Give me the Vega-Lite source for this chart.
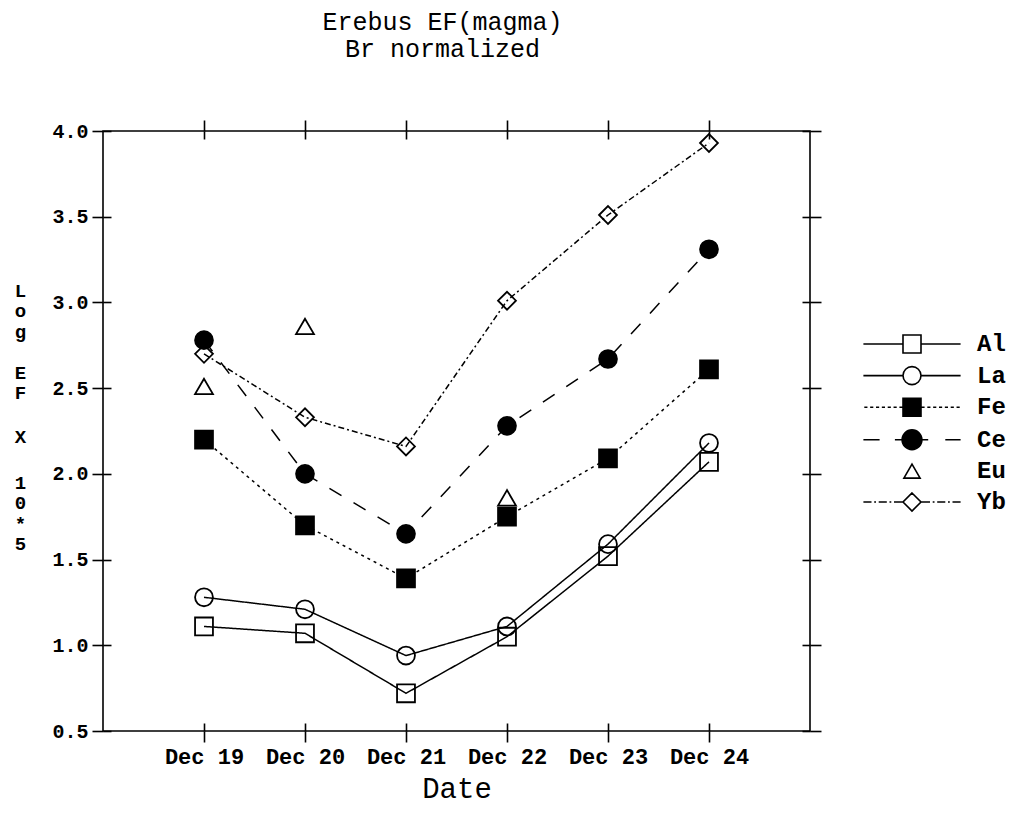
{
  "$schema": "https://vega.github.io/schema/vega-lite/v6.json",
  "width": 707,
  "height": 600,
  "autosize": {"type": "none"},
  "padding": {"left": 103, "top": 131, "right": 212, "bottom": 91},
  "background": "white",
  "config": {
    "font": "Liberation Mono",
    "view": {"stroke": "black", "strokeWidth": 1.6},
    "axis": {"grid": false, "domain": false, "tickColor": "black", "tickWidth": 1.6, "labelColor": "black", "titleColor": "black", "labelFont": "Liberation Mono", "titleFont": "Liberation Mono"},
    "axisY": {"titleAngle": 0, "titleAlign": "center", "titleBaseline": "top", "titleLineHeight": 20.5, "titleFontSize": 19, "titleFontWeight": "bold"}
  },
  "title": {
    "text": ["Erebus EF(magma)", "Br normalized"],
    "font": "Liberation Mono",
    "fontSize": 25,
    "fontWeight": "normal",
    "lineHeight": 27,
    "anchor": "middle",
    "baseline": "bottom",
    "offset": 32,
    "dx": -14,
    "color": "black"
  },
  "data": {
    "values": [
      {"series": "Al", "date": 19, "value": 1.11},
      {"series": "Al", "date": 20, "value": 1.07},
      {"series": "Al", "date": 21, "value": 0.72},
      {"series": "Al", "date": 22, "value": 1.05},
      {"series": "Al", "date": 23, "value": 1.52},
      {"series": "Al", "date": 24, "value": 2.07},
      {"series": "La", "date": 19, "value": 1.28},
      {"series": "La", "date": 20, "value": 1.21},
      {"series": "La", "date": 21, "value": 0.94},
      {"series": "La", "date": 22, "value": 1.11},
      {"series": "La", "date": 23, "value": 1.59},
      {"series": "La", "date": 24, "value": 2.18},
      {"series": "Fe", "date": 19, "value": 2.2},
      {"series": "Fe", "date": 20, "value": 1.7},
      {"series": "Fe", "date": 21, "value": 1.39},
      {"series": "Fe", "date": 22, "value": 1.75},
      {"series": "Fe", "date": 23, "value": 2.09},
      {"series": "Fe", "date": 24, "value": 2.61},
      {"series": "Ce", "date": 19, "value": 2.78},
      {"series": "Ce", "date": 20, "value": 2.0},
      {"series": "Ce", "date": 21, "value": 1.65},
      {"series": "Ce", "date": 22, "value": 2.28},
      {"series": "Ce", "date": 23, "value": 2.67},
      {"series": "Ce", "date": 24, "value": 3.31},
      {"series": "Eu", "date": 19, "value": 2.51},
      {"series": "Eu", "date": 20, "value": 2.86},
      {"series": "Eu", "date": 22, "value": 1.86},
      {"series": "Yb", "date": 19, "value": 2.7},
      {"series": "Yb", "date": 20, "value": 2.33},
      {"series": "Yb", "date": 21, "value": 2.16},
      {"series": "Yb", "date": 22, "value": 3.01},
      {"series": "Yb", "date": 23, "value": 3.51},
      {"series": "Yb", "date": 24, "value": 3.93}
    ]
  },
  "layer": [
    {
      "transform": [{"filter": "datum.series !== 'Eu'"}],
      "mark": {"type": "line", "stroke": "black", "strokeWidth": 1.5},
      "encoding": {
        "x": {
          "field": "date", "type": "quantitative",
          "scale": {"domain": [18, 25], "nice": false, "zero": false},
          "axis": {"orient": "bottom", "values": [19, 20, 21, 22, 23, 24], "labelExpr": "'Dec ' + datum.value", "tickSize": 11, "labelFontSize": 22, "labelFontWeight": "bold", "labelPadding": 4, "labelFlush": false, "labelOverlap": false, "title": "Date", "titleFontSize": 29, "titleFontWeight": "normal", "titlePadding": 7}
        },
        "y": {
          "field": "value", "type": "quantitative",
          "scale": {"domain": [0.5, 4], "nice": false, "zero": false},
          "axis": {"orient": "left", "values": [0.5, 1, 1.5, 2, 2.5, 3, 3.5, 4], "format": ".1f", "tickSize": 11, "labelFontSize": 20, "labelFontWeight": "bold", "labelPadding": 4, "labelFlush": false, "labelOverlap": false,
            "title": ["L", "o", "g"], "titleX": -83, "titleY": 150}
        },
        "detail": {"field": "series", "type": "nominal"},
        "strokeDash": {
          "condition": [
            {"test": "datum.series === 'Fe'", "value": [3, 4]},
            {"test": "datum.series === 'Ce'", "value": [14, 14]},
            {"test": "datum.series === 'Yb'", "value": [6, 3, 2, 3]}
          ],
          "value": [1, 0]
        }
      }
    },
    {
      "mark": {
        "type": "point", "filled": true, "stroke": "black", "strokeWidth": 1.8, "opacity": 1, "size": 320,
        "shape": {"expr": "datum.value === 'Al' ? 'M-5.4,0H-1M1,0H5.4M-1,-1H1V1H-1Z' : datum.value === 'La' ? 'M-5.4,0H-1M1,0H5.4M-1,0A1,1,0,1,0,1,0A1,1,0,1,0,-1,0Z' : datum.value === 'Fe' ? 'M-5.3,0H-4.95M-4.65,0H-4.3M-4,0H-3.65M-3.35,0H-3M-2.7,0H-2.35M-2.05,0H-1.7M-1.4,0H-1M1,0H1.4M1.7,0H2.05M2.35,0H2.7M3,0H3.35M3.65,0H4M4.3,0H4.65M4.95,0H5.3M-1,-1H1V1H-1Z' : datum.value === 'Ce' ? 'M-5.4,0H-3.6M-1.9,0H-1M1,0H1.8M3.7,0H5.4M-1.1,0A1.1,1.1,0,1,0,1.1,0A1.1,1.1,0,1,0,-1.1,0Z' : datum.value === 'Eu' ? 'M0,-0.8L0.9,0.75L-0.9,0.75Z' : 'M-5.4,0H-4.5M-4.2,0H-4M-3.7,0H-2.8M-2.5,0H-2.3M-2,0H-1M1,0H2M2.3,0H2.5M2.8,0H3.7M4,0H4.2M4.5,0H5.4M0,-1L1,0L0,1L-1,0Z'"}
      },
      "encoding": {
        "x": {
          "field": "date", "type": "quantitative",
          "scale": {"domain": [18, 25], "nice": false, "zero": false},
          "axis": {"orient": "bottom", "values": [19, 20, 21, 22, 23, 24], "tickSize": -8, "labels": false, "title": null}
        },
        "y": {
          "field": "value", "type": "quantitative",
          "scale": {"domain": [0.5, 4], "nice": false, "zero": false},
          "axis": {"orient": "left", "values": [0.5, 1, 1.5, 2, 2.5, 3, 3.5, 4], "tickSize": -8, "labels": false, "title": ["E", "F"], "titleX": -83, "titleY": 232}
        },
        "shape": {
          "field": "series", "type": "nominal",
          "scale": {"domain": ["Yb", "Eu", "Ce", "Fe", "La", "Al"], "range": ["diamond", "triangle-up", "circle", "square", "circle", "square"]},
          "legend": null
        },
        "fill": {
          "field": "series", "type": "nominal",
          "scale": {"domain": ["Al", "La", "Fe", "Ce", "Eu", "Yb"], "range": ["transparent", "transparent", "black", "black", "transparent", "transparent"]},
          "legend": {
            "orient": "none", "legendX": 797, "legendY": 201, "direction": "vertical",
            "title": null, "padding": 0, "symbolSize": 324, "symbolOffset": 0, "labelOffset": 53,
            "symbolStrokeColor": "black", "symbolStrokeWidth": 1.6,
            "labelFontSize": 24, "labelFontWeight": "bold", "labelFont": "Liberation Mono", "labelColor": "black",
            "labelBaseline": "middle", "rowPadding": 5.6
          }
        }
      }
    },
    {
      "mark": {"type": "point", "opacity": 0},
      "encoding": {
        "x": {
          "field": "date", "type": "quantitative",
          "scale": {"domain": [18, 25], "nice": false, "zero": false},
          "axis": {"orient": "top", "values": [19, 20, 21, 22, 23, 24], "tickSize": 11, "labels": false, "title": null}
        },
        "y": {
          "field": "value", "type": "quantitative",
          "scale": {"domain": [0.5, 4], "nice": false, "zero": false},
          "axis": {"orient": "right", "values": [0.5, 1, 1.5, 2, 2.5, 3, 3.5, 4], "tickSize": 11, "labels": false, "title": ["X"], "titleX": -790, "titleY": 296}
        }
      }
    },
    {
      "mark": {"type": "point", "opacity": 0},
      "encoding": {
        "x": {
          "field": "date", "type": "quantitative",
          "scale": {"domain": [18, 25], "nice": false, "zero": false},
          "axis": {"orient": "top", "values": [19, 20, 21, 22, 23, 24], "tickSize": -8, "labels": false, "title": null}
        },
        "y": {
          "field": "value", "type": "quantitative",
          "scale": {"domain": [0.5, 4], "nice": false, "zero": false},
          "axis": {"orient": "right", "values": [0.5, 1, 1.5, 2, 2.5, 3, 3.5, 4], "tickSize": -8, "labels": false, "title": ["1", "0", "*", "5"], "titleX": -790, "titleY": 342}
        }
      }
    }
  ],
  "resolve": {"scale": {"x": "independent", "y": "independent"}}
}
